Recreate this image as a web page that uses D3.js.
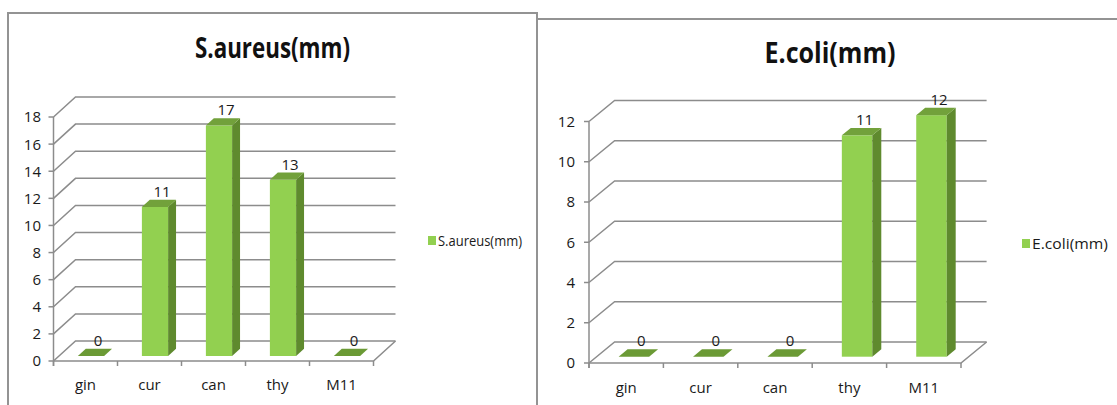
<!DOCTYPE html>
<html>
<head>
<meta charset="utf-8">
<script src="https://cdn.jsdelivr.net/npm/d3@7"></script>
<style>
  body { margin: 0; background: #fff; }
  svg { display: block; font-family: "Open Sans", "DejaVu Sans", sans-serif; }
</style>
</head>
<body>
<div id="chart"></div>
<script>
const categories = ["gin", "cur", "can", "thy", "M11"];
const saureusValues = [0, 11, 17, 13, 0];
const ecoliValues = [0, 0, 0, 11, 12];
const saureusTicks = [0, 2, 4, 6, 8, 10, 12, 14, 16, 18];
const ecoliTicks = [0, 2, 4, 6, 8, 10, 12];

const W = 1117, H = 405;
const gridColor = "#8c8c8c";
const frontColor = "#92d050";
const sideColor = "#5f8a2e";
const topColor = "#72a13b";

const svg = d3.select("#chart")
  .append("svg")
  .attr("width", W)
  .attr("height", H);

// chart frames
svg.append("path")
  .attr("d", "M8,410 L8,13 L537,13 L537,410")
  .attr("fill", "none")
  .attr("stroke", "#939393")
  .attr("stroke-width", 2);
svg.append("path")
  .attr("d", "M537,19 L1120,19")
  .attr("fill", "none")
  .attr("stroke", "#939393")
  .attr("stroke-width", 2);

function drawChart(opt) {
  const g = svg.append("g");
  const { x0, x1, yBase, yTop, dx, dy, zf, zb } = opt;
  const maxV = opt.ticks[opt.ticks.length - 1];

  const x = d3.scaleBand().domain(categories).range([x0, x1]);
  const y = d3.scaleLinear().domain([0, maxV]).range([yBase, yTop]);

  // side wall diagonals + back wall gridlines
  opt.ticks.forEach(t => {
    g.append("path")
      .attr("d", `M${x0},${y(t)} L${x0 + dx},${y(t) + dy} L${x1 + dx},${y(t) + dy}`)
      .attr("fill", "none")
      .attr("stroke", gridColor)
      .attr("stroke-width", 1.5);
  });

  // floor front edge and right edge
  g.append("path")
    .attr("d", `M${x0},${y(0)} L${x1},${y(0)} L${x1 + dx},${y(0) + dy}`)
    .attr("fill", "none")
    .attr("stroke", gridColor)
    .attr("stroke-width", 1.5);

  // front y axis
  g.append("line")
    .attr("x1", x0).attr("x2", x0)
    .attr("y1", y(maxV)).attr("y2", y(0) + 5)
    .attr("stroke", gridColor)
    .attr("stroke-width", 1.5);

  g.selectAll(".ytick")
    .data(opt.ticks)
    .enter()
    .append("line")
    .attr("x1", x0 - 5).attr("x2", x0)
    .attr("y1", d => y(d)).attr("y2", d => y(d))
    .attr("stroke", gridColor)
    .attr("stroke-width", 1.5);

  g.selectAll(".ylab")
    .data(opt.ticks)
    .enter()
    .append("text")
    .attr("x", opt.yLabelX)
    .attr("y", d => y(d))
    .attr("dy", "0.36em")
    .attr("text-anchor", "end")
    .style("font-size", "15px")
    .style("fill", "#1a1a1a")
    .text(d => d);

  // x ticks at band edges
  const edges = categories.map(c => x(c)).concat([x1]);
  g.selectAll(".xtick")
    .data(edges)
    .enter()
    .append("line")
    .attr("x1", d => d).attr("x2", d => d)
    .attr("y1", y(0)).attr("y2", y(0) + 5)
    .attr("stroke", gridColor)
    .attr("stroke-width", 1.5);

  g.selectAll(".xlab")
    .data(categories)
    .enter()
    .append("text")
    .attr("x", d => x(d) + x.bandwidth() / 2)
    .attr("y", opt.xLabelY)
    .attr("text-anchor", "middle")
    .style("font-size", "15px")
    .style("fill", "#1a1a1a")
    .text(d => d);

  // bars
  const bw = x.bandwidth() * opt.barFrac;
  const zd = zb - zf;
  const bars = categories.map((c, i) => {
    const v = opt.values[i];
    const xl = x(c) + x.bandwidth() / 2 - bw / 2 + zf * dx;
    const xr = xl + bw;
    const yb = y(0) + zf * dy;
    const yv = y(v) + zf * dy;
    return { c, v, xl, xr, yb, yv };
  });

  bars.forEach(b => {
    if (b.v > 0) {
      g.append("rect")
        .attr("x", b.xl).attr("y", b.yv)
        .attr("width", b.xr - b.xl).attr("height", b.yb - b.yv)
        .attr("fill", frontColor);
      g.append("polygon")
        .attr("points", [[b.xr, b.yb], [b.xr, b.yv], [b.xr + zd * dx, b.yv + zd * dy], [b.xr + zd * dx, b.yb + zd * dy]].join(" "))
        .attr("fill", sideColor);
    }
    g.append("polygon")
      .attr("points", [[b.xl, b.yv], [b.xr, b.yv], [b.xr + zd * dx, b.yv + zd * dy], [b.xl + zd * dx, b.yv + zd * dy]].join(" "))
      .attr("fill", b.v > 0 ? topColor : "#6b9a35");
  });

  // value labels
  g.selectAll(".vlab")
    .data(bars)
    .enter()
    .append("text")
    .attr("x", d => (d.xl + d.xr + zd * dx) / 2 + 3)
    .attr("y", d => d.yv + zd * dy - 3)
    .attr("text-anchor", "middle")
    .style("font-size", "15px")
    .style("fill", "#1a1a1a")
    .text(d => d.v);

  // title
  g.append("text")
    .attr("x", opt.titleX)
    .attr("y", opt.titleY)
    .attr("text-anchor", "middle")
    .attr("textLength", opt.titleW)
    .attr("lengthAdjust", "spacingAndGlyphs")
    .style("font-size", "28px")
    .style("font-weight", "bold")
    .style("fill", "#111")
    .text(opt.title);

  // legend
  g.append("rect")
    .attr("x", opt.legX).attr("y", opt.legY - 5)
    .attr("width", 8).attr("height", 9)
    .attr("fill", frontColor);
  g.append("text")
    .attr("x", opt.legX + 10)
    .attr("y", opt.legY)
    .attr("dy", "0.35em")
    .attr("textLength", opt.legW)
    .attr("lengthAdjust", "spacingAndGlyphs")
    .style("font-size", "14px")
    .style("fill", "#1a1a1a")
    .text(opt.title);
}

drawChart({
  title: "S.aureus(mm)", values: saureusValues, ticks: saureusTicks,
  x0: 53.5, x1: 373.5, yBase: 361, yTop: 117, dx: 22, dy: -20, zf: 0.25, zb: 0.61,
  barFrac: 0.41, yLabelX: 41, xLabelY: 390,
  titleX: 272.5, titleY: 58, titleW: 155,
  legX: 428, legY: 241, legW: 84
});

drawChart({
  title: "E.coli(mm)", values: ecoliValues, ticks: ecoliTicks,
  x0: 589, x1: 961, yBase: 363, yTop: 121.5, dx: 25.6, dy: -21, zf: 0.3, zb: 0.65,
  barFrac: 0.41, yLabelX: 575, xLabelY: 393,
  titleX: 830, titleY: 63, titleW: 131,
  legX: 1022, legY: 244, legW: 76
});
</script>
</body>
</html>
